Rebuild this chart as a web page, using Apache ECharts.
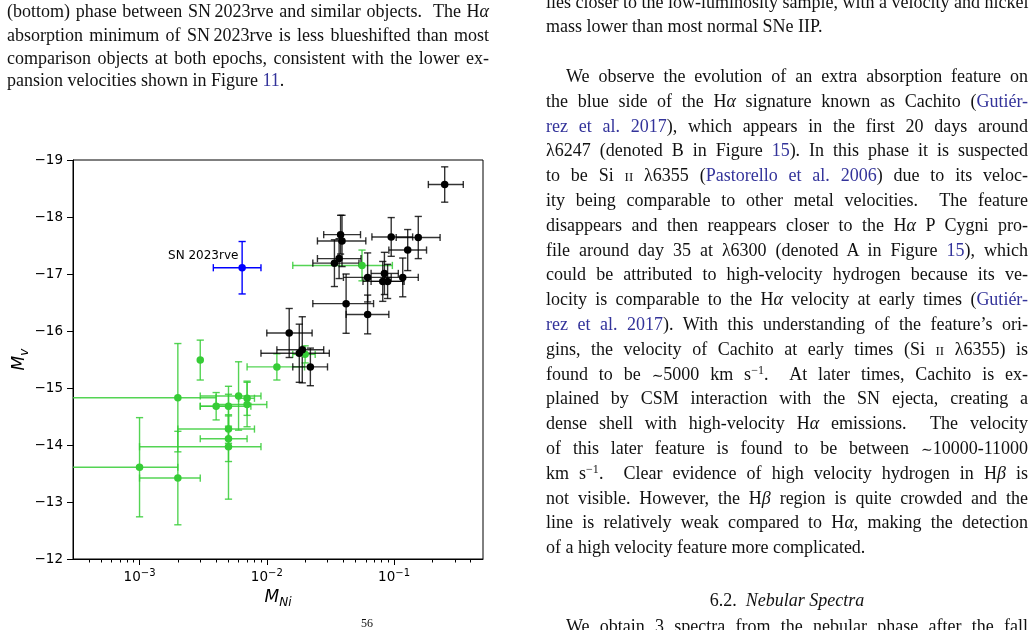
<!DOCTYPE html>
<html>
<head>
<meta charset="utf-8">
<script src="https://cdn.jsdelivr.net/npm/echarts@6/dist/echarts.min.js"></script>
<style>
  body { margin: 0; background: #fff; }
  #page { position: relative; width: 1035px; height: 630px; overflow: hidden; background: #fff;
          font-family: "Liberation Serif", "Times New Roman", serif; font-size: 18px; color: #111; }
  #chart { position: absolute; left: 0; top: 0; width: 1035px; height: 630px; }
  .ln { position: absolute; white-space: nowrap; height: 24px; line-height: 24px;
        text-align: justify; text-align-last: justify; }
  .ln.last { text-align: left; text-align-last: left; }
  .c { color: #33339a; }
  .sc { font-variant: small-caps; }
  .sim { font-family: "DejaVu Serif", serif; font-size: 14px; }
  sup { font-size: 12px; line-height: 0; vertical-align: 6px; }
</style>
</head>
<body>
<div id="page">
  <div id="chart"></div>
</div>
<script>
// sample of normal SNe IIP (black)
const blackMNi   = [0.25, 0.038, 0.039, 0.037, 0.034, 0.095, 0.155, 0.128, 0.062, 0.117, 0.084, 0.0815, 0.089, 0.042, 0.062, 0.015, 0.019, 0.018, 0.022];
const blackMNiLo = [0.186, 0.028, 0.025, 0.025, 0.023, 0.067, 0.104, 0.091, 0.040, 0.084, 0.066, 0.057, 0.066, 0.023, 0.042, 0.010, 0.012, 0.009, 0.016];
const blackMNiHi = [0.35, 0.0545, 0.060, 0.055, 0.053, 0.14, 0.23, 0.18, 0.095, 0.155, 0.108, 0.117, 0.12, 0.069, 0.091, 0.0227, 0.028, 0.031, 0.030];
const blackMv    = [-18.57, -17.69, -17.58, -17.27, -17.19, -17.65, -17.64, -17.42, -16.94, -16.94, -17.01, -16.87, -16.87, -16.48, -16.29, -15.965, -15.67, -15.61, -15.37];
const blackMvErr = [0.31, 0.34, 0.45, 0.35, 0.41, 0.34, 0.37, 0.36, 0.43, 0.34, 0.37, 0.35, 0.30, 0.52, 0.34, 0.43, 0.58, 0.51, 0.33];

// low-luminosity sample (green); lo = 0 means the bar runs off the left edge
const greenMNi   = [0.056, 0.020, 0.012, 0.003, 0.002, 0.004, 0.005, 0.006, 0.007, 0.007, 0.005, 0.005, 0.005, 0.001, 0.002];
const greenMNiLo = [0.016, 0.016, 0.007, 0.003, 0, 0.003, 0.003, 0.003, 0.006, 0.004, 0.002, 0.003, 0.001, 0, 0.001];
const greenMNiHi = [0.097, 0.024, 0.0198, 0.003, 0.004, 0.005, 0.0075, 0.009, 0.008, 0.010, 0.008, 0.007, 0.009, 0.002, 0.003];
const greenMv    = [-17.15, -15.59, -15.37, -15.49, -14.83, -14.68, -14.68, -14.86, -14.82, -14.71, -14.28, -14.11, -13.97, -13.61, -13.42];
const greenMvErr = [0.27, 0.15, 0.23, 0.35, 0.95, 0.24, 0.35, 0.60, 0.30, 0.39, 0.25, 0.40, 0.92, 0.87, 0.82];

// SN 2023rve (blue)
const rveMNi   = [0.0064];
const rveMNiLo = [0.0038];
const rveMNiHi = [0.009];
const rveMv    = [-17.11];
const rveMvErr = [0.46];

// axes
const xRange = [3e-4, 0.5];
const yTicks = [-19, -18, -17, -16, -15, -14, -13, -12];
const majorExp = [-3, -2, -1];
const minorMant = [2, 3, 4, 5, 6, 7, 8, 9];
const minorDecades = [1e-4, 1e-3, 1e-2, 1e-1];

const lg = Math.log10;
const xMin = lg(xRange[0]), xMax = lg(xRange[1]);
const minorTicks = [];
minorDecades.forEach(d => minorMant.forEach(m => {
  const v = m * d;
  if (v > xRange[0] * 1.01 && v < xRange[1] * 0.99) minorTicks.push(lg(v));
}));

function errRender(xs, los, his, ys, errs, color, opacity) {
  return function (params, api) {
    const i = params.dataIndex;
    const cs = params.coordSys;
    const c = api.coord([lg(xs[i]), ys[i]]);
    const xl = los[i] > 0 ? api.coord([lg(los[i]), ys[i]])[0] : cs.x;
    const xh = api.coord([lg(his[i]), ys[i]])[0];
    const yt = api.coord([lg(xs[i]), ys[i] - errs[i]])[1];
    const yb = api.coord([lg(xs[i]), ys[i] + errs[i]])[1];
    const cap = 3.6;
    const style = { stroke: color, lineWidth: 1.4, opacity: opacity };
    const kids = [];
    const seg = (x1, y1, x2, y2) => kids.push({ type: 'line', shape: { x1, y1, x2, y2 }, style });
    if (xh - xl > 0.5) {
      seg(xl, c[1], xh, c[1]);
      if (los[i] > 0) seg(xl, c[1] - cap, xl, c[1] + cap);
      seg(xh, c[1] - cap, xh, c[1] + cap);
    }
    seg(c[0], yt, c[0], yb);
    seg(c[0] - cap, yt, c[0] + cap, yt);
    seg(c[0] - cap, yb, c[0] + cap, yb);
    return { type: 'group', children: kids };
  };
}

function pts(xs, ys) { return xs.map((v, i) => [lg(v), ys[i]]); }

function groupSeries(name, xs, los, his, ys, errs, color, opacity) {
  return [
    { name: name + '-err', type: 'custom', clip: true, encode: { x: 0, y: 1 },
      data: pts(xs, ys), renderItem: errRender(xs, los, his, ys, errs, color, opacity), silent: true },
    { name: name, type: 'scatter', data: pts(xs, ys), symbol: 'circle', symbolSize: 7.5,
      itemStyle: { color: color, opacity: 1 }, silent: true }
  ];
}

const FONT = 'DejaVu Sans';
const series = [].concat(
  groupSeries('low', greenMNi, greenMNiLo, greenMNiHi, greenMv, greenMvErr, '#36cc36', 0.85),
  groupSeries('normal', blackMNi, blackMNiLo, blackMNiHi, blackMv, blackMvErr, '#000000', 0.8),
  groupSeries('rve', rveMNi, rveMNiLo, rveMNiHi, rveMv, rveMvErr, '#0000ff', 1)
);
const rve = series[series.length - 1];
rve.label = { show: true, formatter: 'SN 2023rve', position: 'left', distance: 0, offset: [0, -12],
              fontFamily: FONT, fontSize: 12, color: '#000' };

const chart = echarts.init(document.getElementById('chart'), null, { renderer: 'canvas' });
chart.setOption({
  animation: false,
  backgroundColor: 'transparent',
  textStyle: { fontFamily: FONT },
  grid: { left: 73, top: 160, width: 410, height: 399, containLabel: false, outerBoundsMode: 'none',
          show: true, borderColor: '#000', borderWidth: 1, backgroundColor: 'transparent' },
  xAxis: [
    { type: 'value', min: xMin, max: xMax, position: 'bottom',
      axisLine: { show: true, onZero: false, lineStyle: { color: '#000', width: 1 } },
      axisTick: { show: true, customValues: majorExp, length: 6, lineStyle: { color: '#000', width: 1 } },
      axisLabel: { customValues: majorExp, margin: 9, color: '#000',
        formatter: v => '{a|10}{b|\u2212' + (-Math.round(v)) + '}',
        rich: { a: { fontFamily: FONT, fontSize: 13.5, color: '#000', lineHeight: 18 },
                b: { fontFamily: FONT, fontSize: 10, color: '#000', lineHeight: 10, verticalAlign: 'top' } } },
      splitLine: { show: false },
      name: '{m|M}{s|Ni}', nameLocation: 'middle', nameGap: 28,
      nameTextStyle: { rich: {
        m: { fontFamily: FONT, fontSize: 17, fontStyle: 'italic', color: '#000', lineHeight: 22 },
        s: { fontFamily: FONT, fontSize: 12, fontStyle: 'italic', color: '#000', lineHeight: 12, verticalAlign: 'bottom' } } } },
    { type: 'value', min: xMin, max: xMax, position: 'bottom', gridIndex: 0,
      axisLine: { show: false },
      axisTick: { show: true, customValues: minorTicks, length: 3.5, lineStyle: { color: '#000', width: 1 } },
      axisLabel: { show: false }, splitLine: { show: false } }
  ],
  yAxis: {
    type: 'value', inverse: true, min: yTicks[0], max: yTicks[yTicks.length - 1], interval: 1,
    axisLine: { show: true, onZero: false, lineStyle: { color: '#000', width: 1 } },
    axisTick: { show: true, length: 6, lineStyle: { color: '#000', width: 1 } },
    axisLabel: { margin: 10, color: '#000', fontFamily: FONT, fontSize: 13.5,
                 formatter: v => String(v).replace('-', '\u2212') },
    splitLine: { show: false },
    name: '{m|M}{s|v}', nameLocation: 'middle', nameRotate: 90, nameGap: 40,
    nameTextStyle: { rich: {
      m: { fontFamily: FONT, fontSize: 17, fontStyle: 'italic', color: '#000', lineHeight: 22 },
      s: { fontFamily: FONT, fontSize: 12, fontStyle: 'italic', color: '#000', lineHeight: 12, verticalAlign: 'bottom' } } }
  },
  series: series
});

// surrounding page text, one entry per printed line: [left, xmid, width, html, last?]
const Ha = 'H<i>α</i>';
const Hb = 'H<i>β</i>';
const sim = '<span class="sim">∼</span>';
const lines = [
  [7, 13.3, 482, '(bottom) phase between SN&#8201;2023rve and similar objects.&nbsp; The ' + Ha],
  [7, 36.7, 482, 'absorption minimum of SN&#8201;2023rve is less blueshifted than most'],
  [7, 60, 482, 'comparison objects at both epochs, consistent with the lower ex-'],
  [7, 82, 482, 'pansion velocities shown in Figure <span class="c">11</span>.', 1],
  [546, 4, 482, 'lies closer to the low-luminosity sample, with a velocity and nickel'],
  [546, 27.5, 482, 'mass lower than most normal SNe IIP.', 1],
  [566, 78, 462, 'We observe the evolution of an extra absorption feature on'],
  [546, 102.8, 482, 'the blue side of the ' + Ha + ' signature known as Cachito (<span class="c">Gutiér-</span>'],
  [546, 127.6, 482, '<span class="c">rez et al. 2017</span>), which appears in the first 20 days around'],
  [546, 152.4, 482, 'λ6247 (denoted B in Figure <span class="c">15</span>). In this phase it is suspected'],
  [546, 177.2, 482, 'to be Si <span class="sc">ii</span> λ6355 (<span class="c">Pastorello et al. 2006</span>) due to its veloc-'],
  [546, 202, 482, 'ity being comparable to other metal velocities.&nbsp; The feature'],
  [546, 226.8, 482, 'disappears and then reappears closer to the ' + Ha + ' P Cygni pro-'],
  [546, 251.6, 482, 'file around day 35 at λ6300 (denoted A in Figure <span class="c">15</span>), which'],
  [546, 276.4, 482, 'could be attributed to high-velocity hydrogen because its ve-'],
  [546, 301.2, 482, 'locity is comparable to the ' + Ha + ' velocity at early times (<span class="c">Gutiér-</span>'],
  [546, 326, 482, '<span class="c">rez et al. 2017</span>). With this understanding of the feature’s ori-'],
  [546, 350.8, 482, 'gins, the velocity of Cachito at early times (Si <span class="sc">ii</span> λ6355) is'],
  [546, 375.6, 482, 'found to be ' + sim + '5000 km s<sup>−1</sup>.&nbsp; At later times, Cachito is ex-'],
  [546, 400.4, 482, 'plained by CSM interaction with the SN ejecta, creating a'],
  [546, 425.2, 482, 'dense shell with high-velocity ' + Ha + ' emissions.&nbsp; The velocity'],
  [546, 450, 482, 'of this later feature is found to be between ' + sim + '10000-11000'],
  [546, 474.8, 482, 'km s<sup>−1</sup>.&nbsp; Clear evidence of high velocity hydrogen in ' + Hb + ' is'],
  [546, 499.6, 482, 'not visible. However, the ' + Hb + ' region is quite crowded and the'],
  [546, 524.4, 482, 'line is relatively weak compared to ' + Ha + ', making the detection'],
  [546, 549.2, 482, 'of a high velocity feature more complicated.', 1],
  [566, 627.5, 462, 'We obtain 3 spectra from the nebular phase after the fall']
];
const page = document.getElementById('page');
const FS = 18, LH = 24;
lines.forEach(l => {
  const d = document.createElement('div');
  d.className = 'ln' + (l[4] ? ' last' : '');
  d.style.left = l[0] + 'px';
  d.style.width = l[2] + 'px';
  d.style.top = (l[1] - (LH / 2 + 0.1075 * FS)) + 'px';
  d.innerHTML = l[3];
  page.appendChild(d);
});
const head = document.createElement('div');
head.className = 'ln last';
head.style.left = '546px'; head.style.width = '482px';
head.style.textAlign = 'center'; head.style.textAlignLast = 'center';
head.style.top = (601.5 - (LH / 2 + 0.1075 * FS)) + 'px';
head.innerHTML = '6.2.&nbsp; <i>Nebular Spectra</i>';
page.appendChild(head);
const frag = document.createElement('div');
frag.style.cssText = 'position:absolute;left:361px;top:617px;font-size:12px;line-height:12px;';
frag.textContent = '56';
page.appendChild(frag);
</script>
</body>
</html>
